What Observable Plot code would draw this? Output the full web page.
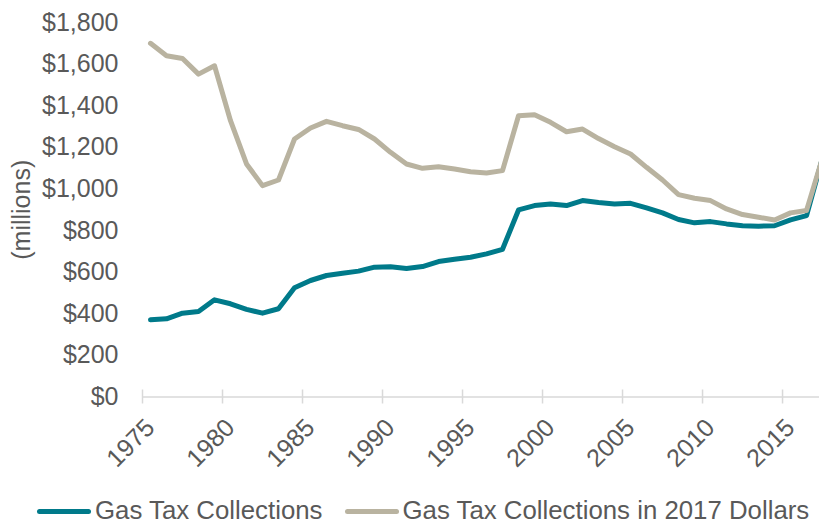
<!DOCTYPE html>
<html><head><meta charset="utf-8">
<script src="https://cdn.jsdelivr.net/npm/d3@7"></script>
<script src="https://cdn.jsdelivr.net/npm/@observablehq/plot@0.6"></script>
<style>
html,body{margin:0;padding:0;background:#fff;overflow:hidden;width:819px;height:523px;}
#chart{position:absolute;left:0;top:0;}
.legend{position:absolute;left:37px;top:494.5px;display:flex;align-items:center;font-family:"Liberation Sans",Arial,sans-serif;font-size:25.8px;line-height:30px;color:#595959;white-space:nowrap;}
.item{display:flex;align-items:center;}
.item + .item{margin-left:22px;}
.sw{width:54px;height:5px;border-radius:3px;margin-right:4px;position:relative;top:1.5px;}
</style></head>
<body><div id="chart"></div><div class="legend" id="legend"></div>
<script>
const years = [1975,1976,1977,1978,1979,1980,1981,1982,1983,1984,1985,1986,1987,1988,1989,1990,1991,1992,1993,1994,1995,1996,1997,1998,1999,2000,2001,2002,2003,2004,2005,2006,2007,2008,2009,2010,2011,2012,2013,2014,2015,2016,2017];
const nominal = [371,376,403,411,467,448,421,403,424,525,560,584,595,605,624,626,618,627,651,662,672,688,710,899,920,928,920,944,935,928,931,909,885,853,837,843,832,823,821,823,851,872,1150];
const real = [1700,1640,1627,1552,1592,1328,1120,1016,1043,1240,1293,1325,1304,1286,1240,1176,1120,1099,1107,1096,1083,1077,1088,1352,1357,1320,1275,1288,1242,1203,1168,1104,1043,973,955,944,904,877,864,851,885,896,1150];
const seriesNames = ["Gas Tax Collections", "Gas Tax Collections in 2017 Dollars"];
const seriesColors = ["#007A8A", "#B9B3A0"];
const xTicks = [1975,1980,1985,1990,1995,2000,2005,2010,2015];
const yTicks = [0,200,400,600,800,1000,1200,1400,1600,1800];

const data = [];
seriesNames.forEach((s, k) => {
  const vals = k === 0 ? nominal : real;
  years.forEach((yr, i) => data.push({year: yr, value: vals[i], series: s}));
});

const font = '"Liberation Sans", Arial, sans-serif';
const chart = Plot.plot({
  width: 819,
  height: 485,
  marginLeft: 142,
  marginRight: 0,
  marginTop: 22,
  marginBottom: 88.5,
  style: {fontFamily: font, fontSize: "25px", color: "#595959", background: "#fff"},
  x: {domain: [1974.5, 2016.81]},
  y: {domain: [0, 1800]},
  color: {domain: seriesNames, range: seriesColors},
  marks: [
    Plot.ruleY([0], {stroke: "#d9d9d9", strokeWidth: 1.5}),
    Plot.axisX({ticks: xTicks, tickSize: 14, dy: -7, dx: -8, stroke: "#d9d9d9", strokeWidth: 1.5, strokeOpacity: 1, tickFormat: () => "", label: null}),
    Plot.text(xTicks, {x: d => d, text: d => String(d), frameAnchor: "bottom", rotate: -45, textAnchor: "end", lineAnchor: "middle", dx: 0, dy: 26.5, fill: "#595959", fontSize: 25}),
    Plot.axisY({ticks: yTicks, tickSize: 0, tickPadding: 24, tickFormat: d => "$" + d3.format(",")(d), fill: "#595959", label: null}),
    Plot.text(["(millions)"], {frameAnchor: "left", rotate: -90, textAnchor: "middle", lineAnchor: "middle", dx: -120.5, fill: "#595959", fontSize: 25}),
    Plot.lineY(data, {x: "year", y: "value", stroke: "series", z: "series", strokeWidth: 5, strokeLinejoin: "round", clip: true})
  ]
});
document.getElementById("chart").appendChild(chart);

const legend = document.getElementById("legend");
seriesNames.forEach((s, k) => {
  const item = document.createElement("div");
  item.className = "item";
  const sw = document.createElement("span");
  sw.className = "sw";
  sw.style.background = seriesColors[k];
  const t = document.createElement("span");
  t.textContent = s;
  item.appendChild(sw);
  item.appendChild(t);
  legend.appendChild(item);
});
</script></body></html>
